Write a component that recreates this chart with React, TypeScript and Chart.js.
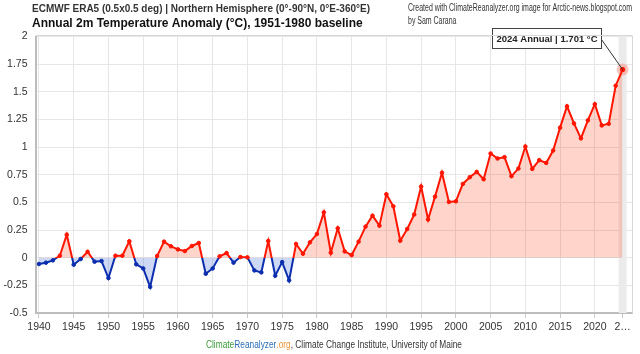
import React, { useEffect, useRef } from 'react';
import { Chart, registerables } from 'chart.js';

Chart.register(...registerables);

const years = [
  1940, 1941, 1942, 1943, 1944, 1945, 1946, 1947, 1948, 1949,
  1950, 1951, 1952, 1953, 1954, 1955, 1956, 1957, 1958, 1959,
  1960, 1961, 1962, 1963, 1964, 1965, 1966, 1967, 1968, 1969,
  1970, 1971, 1972, 1973, 1974, 1975, 1976, 1977, 1978, 1979,
  1980, 1981, 1982, 1983, 1984, 1985, 1986, 1987, 1988, 1989,
  1990, 1991, 1992, 1993, 1994, 1995, 1996, 1997, 1998, 1999,
  2000, 2001, 2002, 2003, 2004, 2005, 2006, 2007, 2008, 2009,
  2010, 2011, 2012, 2013, 2014, 2015, 2016, 2017, 2018, 2019,
  2020, 2021, 2022, 2023, 2024,
];

const anomalies = [
  -0.057, -0.045, -0.024, 0.018, 0.208, -0.063, -0.012, 0.054, -0.036, -0.03,
  -0.184, 0.018, 0.018, 0.148, -0.06, -0.097, -0.264, 0.015, 0.145, 0.103,
  0.075, 0.06, 0.106, 0.133, -0.145, -0.097, 0.012, 0.042, -0.045, 0.006,
  0.003, -0.115, -0.133, 0.151, -0.163, -0.04, -0.205, 0.124, 0.036, 0.139,
  0.214, 0.41, 0.045, 0.266, 0.057, 0.024, 0.145, 0.281, 0.38, 0.29,
  0.573, 0.465, 0.154, 0.26, 0.39, 0.643, 0.345, 0.552, 0.768, 0.504,
  0.51, 0.667, 0.728, 0.776, 0.709, 0.942, 0.897, 0.909, 0.737, 0.806,
  1.005, 0.803, 0.882, 0.857, 0.969, 1.176, 1.369, 1.214, 1.079, 1.242,
  1.388, 1.196, 1.211, 1.555, 1.701,
];

const xTickYears = [
  1940, 1945, 1950, 1955, 1960, 1965, 1970, 1975, 1980, 1985,
  1990, 1995, 2000, 2005, 2010, 2015, 2020, 2024,
];
const lastTickLabel = '2…';

const yTickValues = [-0.5, -0.25, 0, 0.25, 0.5, 0.75, 1, 1.25, 1.5, 1.75, 2];

const titleLine1 = 'ECMWF ERA5 (0.5x0.5 deg) | Northern Hemisphere (0°-90°N, 0°E-360°E)';
const titleLine2 = 'Annual 2m Temperature Anomaly (°C), 1951-1980 baseline';
const creditLine1 = 'Created with ClimateReanalyzer.org image for Arctic-news.blogspot.com';
const creditLine2 = 'by Sam Carana';
const footerParts = [
  { text: 'Climate', color: '#3a9b3a' },
  { text: 'Reanalyzer', color: '#2b6cb8' },
  { text: '.org', color: '#f39237' },
  { text: ', Climate Change Institute, University of Maine', color: '#333333' },
];
const highlightYear = 2024;
const highlightValue = 1.701;
const tooltipText = `${highlightYear} Annual | ${highlightValue} °C`;

const FONT = "'Liberation Sans', Arial, sans-serif";
const POS_LINE = '#ff1500';
const NEG_LINE = '#0c2eae';
const POS_FILL = 'rgba(255, 60, 20, 0.22)';
const NEG_FILL = 'rgba(0, 60, 200, 0.2)';

const decorPlugin = {
  id: 'decor',
  beforeDatasetsDraw(chart: any) {
    const { ctx, chartArea, scales } = chart;
    const x = scales.x.getPixelForValue(highlightYear);
    ctx.save();
    ctx.fillStyle = '#ebebeb';
    ctx.fillRect(x - 4, chartArea.top - 1, 8, chartArea.bottom - chartArea.top + 1);
    ctx.restore();
  },
  afterDatasetsDraw(chart: any) {
    const { ctx, scales } = chart;
    const px = scales.x.getPixelForValue(highlightYear);
    const py = scales.y.getPixelForValue(highlightValue);
    ctx.save();
    // halo
    ctx.beginPath();
    ctx.arc(px, py, 6, 0, Math.PI * 2);
    ctx.fillStyle = 'rgba(255, 40, 20, 0.25)';
    ctx.fill();
    ctx.beginPath();
    ctx.arc(px, py, 2.5, 0, Math.PI * 2);
    ctx.fillStyle = POS_LINE;
    ctx.fill();
    // tooltip box
    const right = px - 22;
    const top = py - 41.5;
    const w = 109;
    const h = 20;
    const left = Math.round(right - w) + 0.5;
    const t = Math.round(top) + 0.5;
    // leader line
    ctx.beginPath();
    ctx.moveTo(left + w, t + 11);
    ctx.lineTo(px, py);
    ctx.strokeStyle = '#333';
    ctx.lineWidth = 1;
    ctx.stroke();
    ctx.fillStyle = '#ffffff';
    ctx.fillRect(left, t, w, h);
    ctx.strokeStyle = '#444';
    ctx.strokeRect(left, t, w, h);
    ctx.fillStyle = '#222';
    ctx.font = `bold 9.6px ${FONT}`;
    ctx.textAlign = 'center';
    ctx.textBaseline = 'middle';
    ctx.fillText(tooltipText, left + w / 2, t + h / 2 + 0.5, 101);
    ctx.restore();
  },
  afterDraw(chart: any) {
    const { ctx, chartArea } = chart;
    ctx.save();
    // top & right frame
    ctx.strokeStyle = '#d8d8d8';
    ctx.lineWidth = 1;
    ctx.beginPath();
    ctx.moveTo(chartArea.left, chartArea.top - 1);
    ctx.lineTo(chartArea.right + 0.5, chartArea.top - 1);
    ctx.lineTo(chartArea.right + 0.5, chartArea.bottom);
    ctx.stroke();

    // titles
    ctx.textAlign = 'left';
    ctx.textBaseline = 'middle';
    ctx.fillStyle = '#333';
    ctx.font = `bold 10px ${FONT}`;
    ctx.fillText(titleLine1, 32, 9, 338);
    ctx.fillStyle = '#111';
    ctx.font = `bold 12px ${FONT}`;
    ctx.fillText(titleLine2, 32, 24, 336);

    // credits (condensed)
    ctx.fillStyle = '#333';
    ctx.font = `10px ${FONT}`;
    const cw = ctx.measureText(creditLine1).width;
    const cs = 224 / cw;
    ctx.save();
    ctx.translate(408, 8.5);
    ctx.scale(cs, 1);
    ctx.fillText(creditLine1, 0, 0);
    ctx.fillText(creditLine2, 0, 12.5);
    ctx.restore();

    // footer
    ctx.font = `10px ${FONT}`;
    const widths = footerParts.map((p) => ctx.measureText(p.text).width);
    const total = widths.reduce((a, b) => a + b, 0);
    const fs = Math.min(1, 256 / total);
    ctx.save();
    ctx.translate(334 - (total * fs) / 2, 345);
    ctx.scale(fs, 1);
    let x = 0;
    footerParts.forEach((p, i) => {
      ctx.fillStyle = p.color;
      ctx.fillText(p.text, x, 0);
      x += widths[i];
    });
    ctx.restore();
    ctx.restore();
  },
};

export default function App() {
  const canvasRef = useRef<HTMLCanvasElement | null>(null);

  useEffect(() => {
    if (!canvasRef.current) return;
    Chart.defaults.font.family = FONT;
    const chart = new Chart(canvasRef.current, {
      type: 'line',
      data: {
        datasets: [
          {
            data: years.map((yr, i) => ({ x: yr, y: anomalies[i] })),
            borderWidth: 2,
            tension: 0,
            borderColor: (c: any) => {
              const ch = c.chart;
              const { chartArea, scales } = ch;
              if (!chartArea || !scales || !scales.y) return POS_LINE;
              const y0 = scales.y.getPixelForValue(0);
              const g = ch.ctx.createLinearGradient(0, chartArea.top, 0, chartArea.bottom);
              const f = Math.min(1, Math.max(0, (y0 - chartArea.top) / (chartArea.bottom - chartArea.top)));
              g.addColorStop(0, POS_LINE);
              g.addColorStop(f, POS_LINE);
              g.addColorStop(f, NEG_LINE);
              g.addColorStop(1, NEG_LINE);
              return g;
            },
            fill: { target: { value: 0 }, above: POS_FILL, below: NEG_FILL },
            pointRadius: 1.8,
            pointBorderWidth: 1,
            pointBackgroundColor: (c: any) => (c.raw && c.raw.y < 0 ? NEG_LINE : POS_LINE),
            pointBorderColor: (c: any) => (c.raw && c.raw.y < 0 ? NEG_LINE : POS_LINE),
          } as any,
        ],
      },
      options: {
        animation: false,
        responsive: false,
        devicePixelRatio: 1,
        layout: { padding: { top: 36.5, right: 8, left: 0, bottom: 0 } },
        plugins: {
          legend: { display: false },
          tooltip: { enabled: false },
          title: { display: false },
        },
        events: [],
        scales: {
          x: {
            type: 'linear',
            min: 1939.5,
            max: 2025.35,
            afterBuildTicks: (s: any) => {
              s.ticks = xTickYears.map((v) => ({ value: v }));
            },
            afterFit: (s: any) => {
              s.height = 41;
            },
            grid: { color: '#e6e6e6', tickLength: 5, tickColor: '#c8c8c8' },
            border: { display: true, color: '#bdbdbd', width: 2 },
            ticks: {
              autoSkip: false,
              maxRotation: 0,
              padding: 3,
              color: '#333',
              font: { size: 10.5, family: FONT },
              callback: (v: any) => (v === xTickYears[xTickYears.length - 1] ? lastTickLabel : String(v)),
            },
          },
          y: {
            type: 'linear',
            min: -0.5,
            max: 2,
            afterBuildTicks: (s: any) => {
              s.ticks = yTickValues.map((v) => ({ value: v }));
            },
            afterFit: (s: any) => {
              s.width = 35.5;
            },
            grid: { color: '#e6e6e6', drawTicks: false },
            border: { display: true, color: '#bdbdbd', width: 2 },
            ticks: {
              padding: 8,
              color: '#333',
              font: { size: 10.5, family: FONT },
              callback: (v: any) => String(Number(Number(v).toFixed(2))),
            },
          },
        },
      } as any,
      plugins: [decorPlugin],
    });
    return () => chart.destroy();
  }, []);

  return (
    <div style={{ position: 'absolute', left: 0, top: 0, width: 640, height: 354, background: '#fff' }}>
      <canvas ref={canvasRef} width={640} height={354} style={{ display: 'block' }} />
    </div>
  );
}
